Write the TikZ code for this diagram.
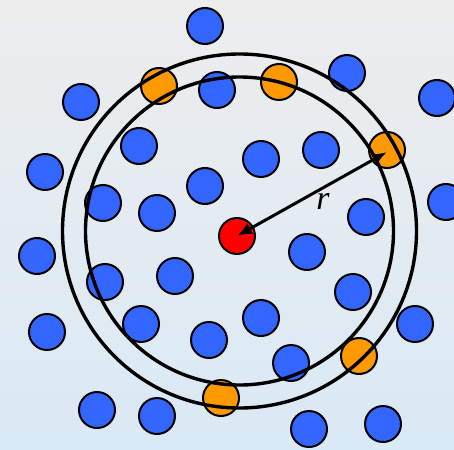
\documentclass[tikz,border=0pt]{standalone}
\usepackage{fontspec}
\setmainfont{Liberation Serif}
\usetikzlibrary{arrows.meta}
\definecolor{bgtop}{HTML}{EDEDED}
\definecolor{bgbot}{HTML}{DAE9F6}
\definecolor{dotblue}{HTML}{3366FF}
\definecolor{dotorange}{HTML}{FF9900}
\definecolor{dotred}{HTML}{FF0000}
\tikzset{
  dot/.style={circle, draw=black, line width=2pt, minimum size=36pt, inner sep=0pt},
  bdot/.style={dot, fill=dotblue},
  odot/.style={dot, fill=dotorange},
  rdot/.style={dot, fill=dotred},
  ring/.style={draw=black, line width=3.4pt},
  radius arrow/.style={line width=3pt, {Latex[length=15pt,width=12pt]}-{Latex[length=15pt,width=12pt]}}
}
\begin{document}
\begin{tikzpicture}[x=1pt,y=-1pt]
\shade[top color=bgtop, bottom color=bgbot] (0,0) rectangle (454,449);
\useasboundingbox (0,0) rectangle (454,449);
% blue dots
\foreach \i/\x/\y in {1/205/26, 2/81/102, 3/217/90, 4/347/73, 5/437/98, 6/45/172, 7/139/146, 8/261/159, 9/321/150, 10/103/203, 11/157/213, 12/205/186, 13/446/202, 14/366/217, 15/37/256, 16/307/252, 17/105/282, 18/175/276, 19/353/292, 20/47/332, 21/141/324, 22/209/340, 23/261/318, 24/291/363, 25/415/324, 26/97/410, 27/157/416, 28/309/429, 29/383/424}
  \node[bdot] (b\i) at (\x,\y) {};
% orange dots
\node[odot] (o1) at (159,86) {};
\node[odot] (o2) at (279,82) {};
\node[odot] (o3) at (387,150) {};
\node[odot] (o4) at (359,356) {};
\node[odot] (o5) at (221,398) {};
% red centre
\node[rdot] (c) at (237,236) {};
% rings
\coordinate (rc) at (239.5,231);
\draw[ring] (rc) circle[radius=177];
\draw[ring] (rc) circle[radius=154];
% radius arrow
\draw[radius arrow] (c.center) -- ([yshift=-2pt]o3.center);
\node[font=\itshape\fontsize{34}{34}\selectfont] (rl) at (323,201) {r};
\end{tikzpicture}
\end{document}
